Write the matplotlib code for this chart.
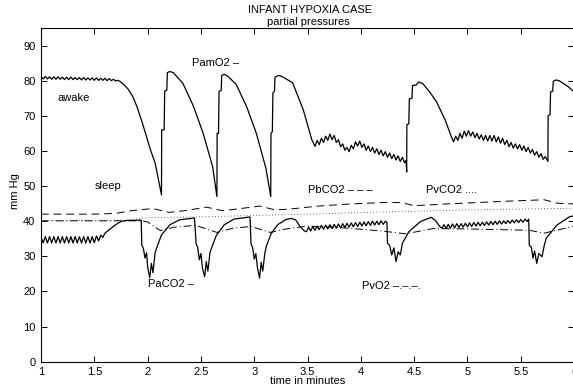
"""
Infant hypoxia case: partial pressures over time (MATLAB-style line plot)
"""

import matplotlib
matplotlib.use('Agg')
import matplotlib.pyplot as plt

plt.rcParams['font.family'] = ['Liberation Sans', 'DejaVu Sans']
plt.rcParams['font.size'] = 8
plt.rcParams['axes.linewidth'] = 0.8

# PamO2 (solid, upper trace)
pamo2_t = [1.00, 1.02, 1.04, 1.06, 1.08, 1.10, 1.12, 1.14, 1.16, 1.18, 1.20, 1.22,
           1.24, 1.26, 1.28, 1.30, 1.32, 1.34, 1.36, 1.38, 1.40, 1.42, 1.44, 1.46,
           1.48, 1.50, 1.52, 1.54, 1.56, 1.58, 1.60, 1.62, 1.64, 1.66, 1.68, 1.70,
           1.72, 1.74, 1.78, 1.82, 1.86, 1.90, 1.95, 1.99, 2.03, 2.07, 2.10, 2.13,
           2.132, 2.155, 2.16, 2.18, 2.185, 2.21, 2.24, 2.33, 2.43, 2.52, 2.61, 2.65,
           2.652, 2.665, 2.67, 2.69, 2.695, 2.72, 2.75, 2.83, 2.93, 3.02, 3.11, 3.155,
           3.157, 3.17, 3.175, 3.19, 3.195, 3.23, 3.26, 3.36, 3.46, 3.54, 3.57,
           3.59, 3.61, 3.63, 3.65, 3.67, 3.69, 3.71, 3.73, 3.75, 3.77, 3.79, 3.81,
           3.83, 3.85, 3.87, 3.89, 3.91, 3.93, 3.95, 3.97, 3.99, 4.01, 4.03, 4.05,
           4.07, 4.09, 4.11, 4.13, 4.15, 4.17, 4.19, 4.21, 4.23, 4.25, 4.27, 4.29,
           4.31, 4.33, 4.35, 4.37, 4.39, 4.41, 4.425, 4.43,
           4.432, 4.45, 4.455, 4.48, 4.485, 4.52, 4.54, 4.58, 4.64, 4.71, 4.79, 4.85,
           4.87, 4.89, 4.91, 4.93, 4.95, 4.97, 4.99, 5.01, 5.03, 5.05, 5.07, 5.09,
           5.11, 5.13, 5.15, 5.17, 5.19, 5.21, 5.23, 5.25, 5.27, 5.29, 5.31, 5.33,
           5.35, 5.37, 5.39, 5.41, 5.43, 5.45, 5.47, 5.49, 5.51, 5.53, 5.55, 5.57,
           5.59, 5.61, 5.63, 5.65, 5.67, 5.69, 5.71, 5.73, 5.755,
           5.757, 5.775, 5.78, 5.80, 5.805, 5.83, 5.86, 5.90, 5.95, 6.00]
pamo2_v = [81.2, 80.5, 81.2, 80.5, 81.1, 80.4, 81.1, 80.4, 81.1, 80.4, 81.0, 80.3,
           81.0, 80.3, 81.0, 80.3, 80.9, 80.3, 80.9, 80.2, 80.9, 80.2, 80.8, 80.2,
           80.8, 80.1, 80.8, 80.1, 80.7, 80.1, 80.7, 80.0, 80.6, 80.0, 80.4, 79.9,
           80.1, 79.8, 78.8, 77.5, 75.5, 72.6, 68.0, 64.0, 60.0, 56.6, 52.0, 47.5,
           66.0, 66.0, 77.0, 77.3, 82.3, 82.6, 82.3, 79.3, 72.7, 65.1, 55.5, 47.0,
           65.0, 65.0, 77.0, 77.2, 81.5, 81.8, 81.3, 79.0, 72.5, 65.0, 55.0, 47.0,
           65.0, 65.5, 76.5, 77.0, 81.0, 81.5, 81.2, 79.4, 71.7, 63.2, 61.3,
           63.0, 61.8, 63.6, 62.4, 64.2, 63.0, 64.8, 63.2, 64.4, 62.4, 63.2, 61.2,
           62.0, 60.2, 61.0, 59.8, 61.6, 60.6, 62.6, 61.4, 62.8, 61.0, 62.0, 60.2,
           61.4, 59.8, 61.0, 59.4, 60.6, 59.0, 60.2, 58.6, 59.8, 58.2, 59.4, 57.8,
           59.0, 57.4, 58.6, 57.0, 58.2, 56.6, 57.4, 54.0,
           67.5, 67.7, 74.8, 75.0, 78.6, 78.8, 79.6, 79.2, 77.0, 74.0, 68.9, 64.0,
           62.6, 64.2, 63.0, 65.0, 63.6, 65.6, 64.2, 65.8, 64.2, 65.4, 63.8, 65.0,
           63.4, 64.6, 63.0, 64.4, 62.8, 64.4, 62.8, 64.4, 62.6, 64.0, 62.2, 63.6,
           61.8, 63.0, 61.2, 62.4, 60.8, 62.0, 60.6, 61.8, 60.2, 61.4, 59.8, 61.0,
           59.4, 60.4, 58.8, 59.8, 58.2, 59.2, 57.6, 58.4, 57.0,
           70.0, 70.3, 76.8, 77.0, 79.8, 80.2, 80.0, 79.2, 78.2, 76.8]

# PaCO2 (solid, lower trace)
paco2_t = [1.00, 1.02, 1.04, 1.06, 1.08, 1.10, 1.12, 1.14, 1.16, 1.18, 1.20, 1.22,
           1.24, 1.26, 1.28, 1.30, 1.32, 1.34, 1.36, 1.38, 1.40, 1.42, 1.44, 1.46,
           1.48, 1.50, 1.52, 1.54, 1.56, 1.58, 1.60, 1.65, 1.70, 1.75, 1.80, 1.94,
           1.945, 1.96, 1.975, 1.99, 2.00, 2.02, 2.035, 2.05, 2.07, 2.085, 2.13, 2.21,
           2.30, 2.44,
           2.455, 2.47, 2.485, 2.50, 2.515, 2.535, 2.55, 2.565, 2.585, 2.60, 2.645,
           2.72, 2.81, 2.96,
           2.97, 2.985, 3.00, 3.015, 3.03, 3.05, 3.065, 3.08, 3.10, 3.115, 3.16, 3.22,
           3.30, 3.35, 3.39, 3.43, 3.47,
           3.49, 3.51, 3.53, 3.55, 3.57, 3.59, 3.61, 3.63, 3.65, 3.67, 3.69, 3.71,
           3.73, 3.75, 3.77, 3.79, 3.81, 3.83, 3.85, 3.87, 3.89, 3.91, 3.93, 3.95,
           3.97, 3.99, 4.01, 4.03, 4.05, 4.07, 4.09, 4.11, 4.13, 4.15, 4.17, 4.19,
           4.21, 4.23, 4.245,
           4.25, 4.27, 4.29, 4.31, 4.33, 4.35, 4.37, 4.39, 4.45, 4.56, 4.66, 4.70, 4.74,
           4.76, 4.78, 4.80, 4.82, 4.84, 4.86, 4.88, 4.90, 4.92, 4.94, 4.96, 4.98,
           5.00, 5.02, 5.04, 5.06, 5.08, 5.10, 5.12, 5.14, 5.16, 5.18, 5.20, 5.22,
           5.24, 5.26, 5.28, 5.30, 5.32, 5.34, 5.36, 5.38, 5.40, 5.42, 5.44, 5.46,
           5.48, 5.50, 5.52, 5.54, 5.56, 5.575,
           5.58, 5.60, 5.615, 5.63, 5.65, 5.67, 5.70, 5.72, 5.74, 5.84, 5.96, 6.00]
paco2_v = [35.4, 33.8, 35.6, 33.8, 35.6, 33.8, 35.6, 33.8, 35.6, 33.8, 35.6, 33.8,
           35.6, 33.8, 35.6, 33.8, 35.6, 33.8, 35.6, 33.8, 35.6, 33.8, 35.6, 33.8,
           35.6, 33.9, 35.8, 34.4, 36.0, 35.4, 36.6, 37.8, 39.0, 39.9, 40.2, 40.3,
           33.2, 32.3, 29.5, 31.0, 27.0, 23.9, 28.0, 25.3, 31.0, 32.4, 36.1, 39.0,
           40.4, 40.9,
           33.5, 32.5, 29.0, 30.8, 26.5, 24.2, 28.5, 25.8, 31.0, 32.4, 36.0,
           39.0, 40.6, 41.2,
           33.5, 32.5, 29.2, 30.8, 26.8, 23.8, 28.3, 25.8, 31.0, 33.0, 36.5, 39.0,
           40.5, 40.8, 40.3, 38.5, 37.2,
           37.0, 38.3, 37.2, 38.5, 37.4, 38.6, 37.6, 38.8, 37.7, 38.9, 37.8, 39.0,
           37.9, 39.1, 38.0, 39.2, 38.1, 39.3, 38.2, 39.4, 38.3, 39.5, 38.4, 39.6,
           38.5, 39.7, 38.6, 39.8, 38.7, 39.9, 38.8, 40.0, 38.9, 40.0, 39.0, 40.1,
           39.1, 40.0, 39.6,
           33.7, 33.2, 30.4, 32.4, 28.5, 31.3, 30.4, 33.7, 37.0, 39.9, 41.1, 40.2, 38.5,
           38.0, 39.0, 37.9, 39.1, 38.0, 39.2, 38.1, 39.3, 38.2, 39.3, 38.3, 39.4,
           38.4, 39.5, 38.5, 39.6, 38.6, 39.7, 38.7, 39.7, 38.8, 39.8, 38.9, 39.9,
           39.0, 40.0, 39.1, 40.1, 39.2, 40.1, 39.3, 40.2, 39.4, 40.3, 39.5, 40.4,
           39.6, 40.5, 39.7, 40.6, 39.9, 40.6,
           33.2, 32.5, 29.5, 31.5, 28.0, 30.8, 29.9, 33.0, 35.2, 38.9, 41.3, 41.5]

# PbCO2 (dashed)
pbco2_t = [1.0, 1.5, 1.7, 1.85, 2.05, 2.2, 2.35, 2.55, 2.7, 2.85, 3.05, 3.2, 3.35,
           3.6, 3.9, 4.2, 4.38, 4.5, 4.8, 5.3, 5.72, 5.85, 6.0]
pbco2_v = [42.0, 42.0, 42.2, 43.0, 43.6, 42.5, 43.0, 44.0, 43.0, 43.5, 44.3, 43.2,
           43.5, 44.3, 44.9, 45.3, 45.3, 44.4, 44.9, 45.6, 46.1, 45.1, 44.9]

# PvCO2 (dotted)
pvco2_t = [1.0, 1.8, 2.0, 2.6, 3.5, 4.3, 5.0, 6.0]
pvco2_v = [40.2, 40.3, 41.0, 41.3, 42.0, 42.7, 43.2, 43.7]

# PvO2 (dash-dot)
pvo2_t = [1.0, 1.95, 2.0, 2.12, 2.25, 2.45, 2.65, 2.8, 2.97, 3.15, 3.3, 3.5, 3.8,
          4.2, 4.42, 4.68, 5.0, 5.58, 5.72, 5.85, 6.0]
pvo2_v = [40.1, 40.1, 39.8, 37.3, 38.3, 38.8, 36.8, 38.0, 38.5, 36.8, 37.8, 38.6,
          38.2, 37.2, 36.4, 37.9, 37.8, 37.4, 36.6, 37.5, 38.6]

x_ticks = [1, 1.5, 2, 2.5, 3, 3.5, 4, 4.5, 5, 5.5, 6]
x_tick_labels = ['1', '1.5', '2', '2.5', '3', '3.5', '4', '4.5', '5', '5.5', '6']
y_ticks = [0, 10, 20, 30, 40, 50, 60, 70, 80, 90]


def create_figure():
    fig = plt.figure(figsize=(5.73, 3.87), dpi=100)
    ax = fig.add_axes([0.0716, 0.0654, 0.9302, 0.8623])

    ax.plot(pamo2_t, pamo2_v, color='black', linewidth=0.9)
    ax.plot(paco2_t, paco2_v, color='black', linewidth=0.9)
    ax.plot(pbco2_t, pbco2_v, color='black', linewidth=0.7, dashes=(8, 5))
    ax.plot(pvco2_t, pvco2_v, color='black', linewidth=0.6, dashes=(0.8, 3))
    ax.plot(pvo2_t, pvo2_v, color='black', linewidth=0.7, dashes=(8, 3, 1, 3))

    ax.set_xlim(1, 6)
    ax.set_ylim(0, 95)
    ax.set_xticks(x_ticks)
    ax.set_xticklabels(x_tick_labels)
    ax.set_yticks(y_ticks)
    ax.tick_params(direction='in', length=4, width=0.7, top=True, right=True,
                   labelsize=8, pad=4)

    # annotations
    ax.text(1.15, 75.1, 'awake', va='center', ha='left', fontsize=8)
    ax.text(1.507, 50.0, 'sleep', va='center', ha='left', fontsize=8)
    ax.text(2.417, 85.1, 'PamO2 \u2013', va='center', ha='left', fontsize=8)
    ax.text(3.505, 48.9, 'PbCO2 \u2013 \u2013 \u2013', va='center', ha='left', fontsize=8)
    ax.text(4.61, 48.9, 'PvCO2 ....', va='center', ha='left', fontsize=8)
    ax.text(2.004, 22.1, 'PaCO2 \u2013', va='center', ha='left', fontsize=8)
    ax.text(4.01, 21.5, 'PvO2 \u2013.\u2013.\u2013.', va='center', ha='left', fontsize=8)

    fig.text(0.541, 0.974, 'INFANT HYPOXIA CASE', ha='center', va='center', fontsize=8)
    fig.text(0.538, 0.943, 'partial pressures', ha='center', va='center', fontsize=8)
    fig.text(0.537, 0.0155, 'time in minutes', ha='center', va='center', fontsize=8)
    fig.text(0.026, 0.506, 'mm Hg', ha='center', va='center', rotation=90, fontsize=8)

    fig.savefig('out.png', dpi=100, facecolor='white')


if __name__ == "__main__":
    create_figure()
